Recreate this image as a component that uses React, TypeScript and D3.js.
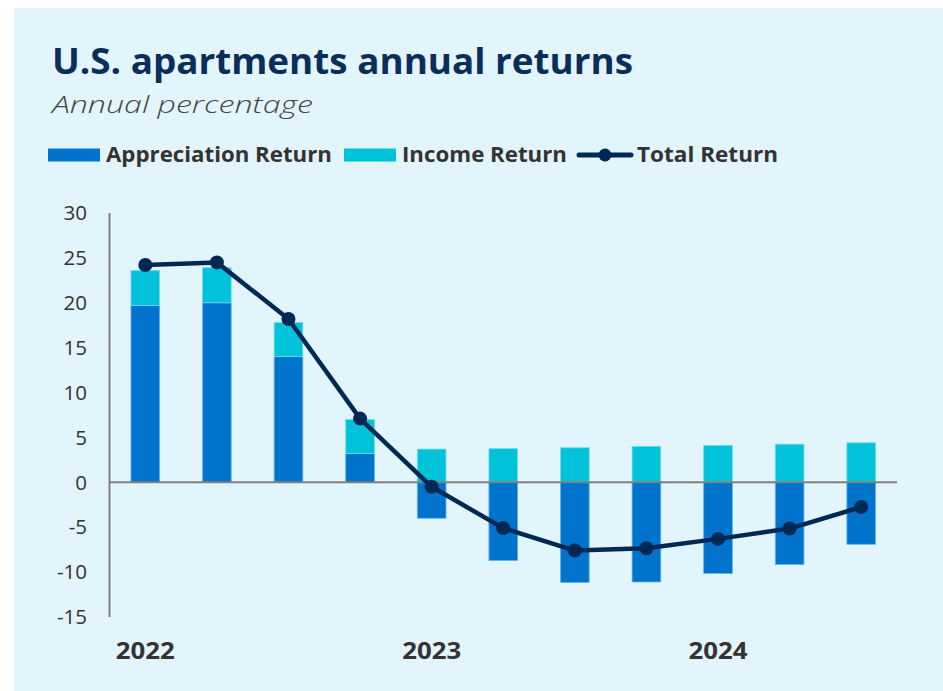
import React from 'react';
import * as d3 from 'd3';

const quarters = [
  '2022 Q1', '2022 Q2', '2022 Q3', '2022 Q4',
  '2023 Q1', '2023 Q2', '2023 Q3', '2023 Q4',
  '2024 Q1', '2024 Q2', '2024 Q3',
];
const appreciation = [19.7, 20.0, 14.0, 3.2, -4.0, -8.7, -11.15, -11.1, -10.15, -9.15, -6.9];
const income = [3.9, 3.9, 3.8, 3.8, 3.7, 3.75, 3.85, 4.0, 4.1, 4.25, 4.4];
const total = [24.2, 24.5, 18.2, 7.1, -0.5, -5.1, -7.6, -7.35, -6.3, -5.15, -2.75];
const yTicks = [-15, -10, -5, 0, 5, 10, 15, 20, 25, 30];
const yearLabels = [
  { label: '2022', at: '2022 Q1' },
  { label: '2023', at: '2023 Q1' },
  { label: '2024', at: '2024 Q1' },
];

const COLOR_APP = '#0074CD';
const COLOR_INC = '#00C3D9';
const COLOR_LINE = '#002855';
const TEXT = '#333333';
const FONT = '"Open Sans", "Noto Sans", sans-serif';

const App = () => {
  const width = 943;
  const height = 691;
  const plot = { left: 109.5, right: 897, top: 213, bottom: 617 };

  const xScale = d3.scaleBand()
    .domain(quarters)
    .range([plot.left, plot.right])
    .paddingInner(0.6)
    .paddingOuter(0.3);

  const yScale = d3.scaleLinear()
    .domain([-15, 30])
    .range([plot.bottom, plot.top]);

  const bw = xScale.bandwidth();
  const cx = (q: string) => (xScale(q) as number) + bw / 2;

  // stack: income sits on appreciation when it is positive, else on zero
  const bars = quarters.map((q, i) => {
    const a = appreciation[i];
    const inc = income[i];
    const base = a > 0 ? a : 0;
    return { q, a, incLo: base, incHi: base + inc };
  });

  const line = d3.line<number>()
    .x((d, i) => cx(quarters[i]))
    .y(d => yScale(d));

  return (
    <svg width={width} height={height} style={{ position: 'absolute', left: 0, top: 0, display: 'block' }}>
      <rect x={0} y={0} width={width} height={height} fill='#ffffff' />
      <rect x={14} y={8} width={width - 14} height={height - 8} fill='#E2F4FC' />

      <text x={52} y={74} fontFamily={FONT} fontWeight={700} fontSize={35} fill='#0A2D5A'
        textLength={581} lengthAdjust='spacingAndGlyphs'>U.S. apartments annual returns</text>
      <text x={52} y={113} fontFamily={FONT} fontStyle='italic' fontWeight={300} fontSize={24} fill='#444444'
        textLength={261} lengthAdjust='spacingAndGlyphs'>Annual percentage</text>

      {/* legend */}
      <g fontFamily={FONT} fontWeight={700} fontSize={21} fill={TEXT}>
        <rect x={48} y={148.5} width={52} height={13} fill={COLOR_APP} />
        <text x={106} y={162} textLength={226} lengthAdjust='spacingAndGlyphs'>Appreciation Return</text>
        <rect x={344} y={148.5} width={52} height={13} fill={COLOR_INC} />
        <text x={402} y={162} textLength={165} lengthAdjust='spacingAndGlyphs'>Income Return</text>
        <line x1={579} x2={631} y1={155} y2={155} stroke={COLOR_LINE} strokeWidth={5} strokeLinecap='round' />
        <circle cx={605} cy={155} r={6.5} fill={COLOR_LINE} />
        <text x={637} y={162} textLength={141} lengthAdjust='spacingAndGlyphs'>Total Return</text>
      </g>

      {/* y tick labels */}
      {yTicks.map(t =>
        <text key={`yt-${t}`} x={87} y={yScale(t)} dy='0.35em' textAnchor='end'
          fontFamily={FONT} fontSize={20.5} fill={TEXT}>{t}</text>
      )}

      {/* bars */}
      {bars.map(b =>
        <g key={`bar-${b.q}`}>
          <rect x={xScale(b.q)} y={yScale(Math.max(0, b.a))} width={bw}
            height={Math.abs(yScale(b.a) - yScale(0))} fill={COLOR_APP}
            stroke='#5FB3EC' strokeWidth={0.8} />
          <rect x={xScale(b.q)} y={yScale(b.incHi)} width={bw}
            height={yScale(b.incLo) - yScale(b.incHi)} fill={COLOR_INC}
            stroke='#6DDDEB' strokeWidth={0.8} />
        </g>
      )}

      {/* axes */}
      <line x1={plot.left} x2={plot.left} y1={plot.top} y2={plot.bottom} stroke='#808080' strokeWidth={2} />
      <line x1={plot.left} x2={plot.right} y1={yScale(0)} y2={yScale(0)} stroke='#808080' strokeWidth={2} />

      {/* total return line */}
      <path d={line(total) || ''} fill='none' stroke={COLOR_LINE} strokeWidth={4.5} strokeLinejoin='round' />
      {total.map((d, i) =>
        <circle key={`dot-${i}`} cx={cx(quarters[i])} cy={yScale(d)} r={7} fill={COLOR_LINE} />
      )}

      {/* year labels */}
      {yearLabels.map(y =>
        <text key={`yr-${y.label}`} x={cx(y.at)} y={659} textAnchor='middle'
          fontFamily={FONT} fontWeight={700} fontSize={24} fill={TEXT}
          textLength={59} lengthAdjust='spacingAndGlyphs'>{y.label}</text>
      )}
    </svg>
  );
};

export default App;
